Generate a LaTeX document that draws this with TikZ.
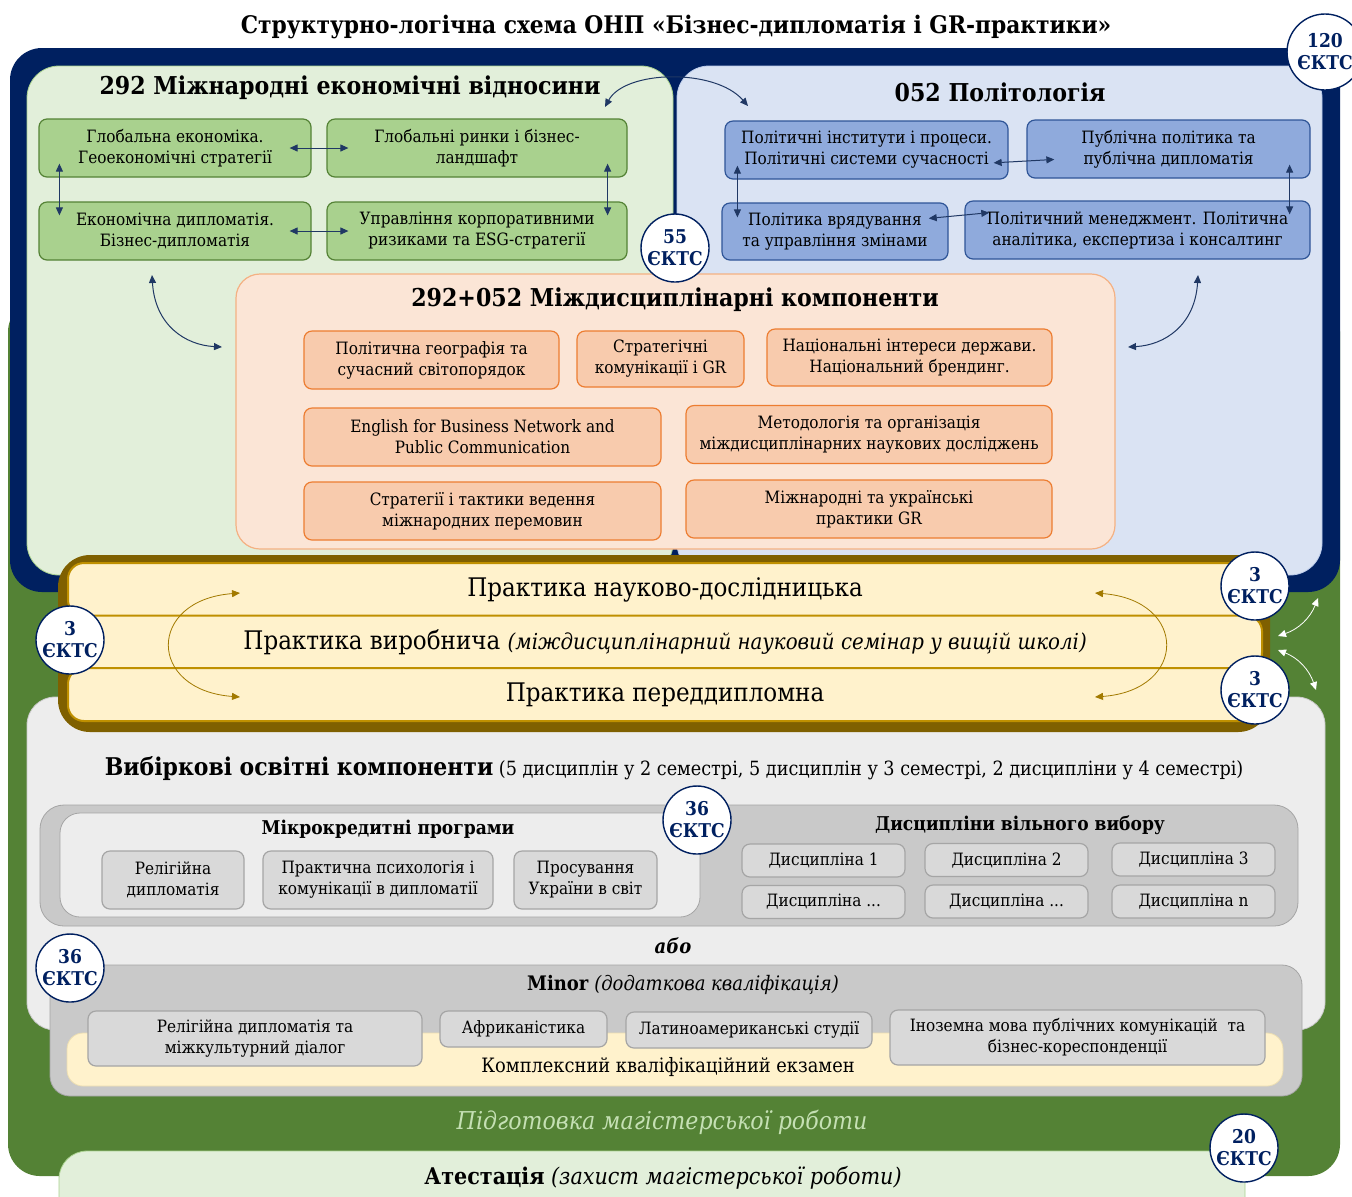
\documentclass[tikz,border=0pt]{standalone}
\usepackage{fontspec}
\setmainfont{DejaVu Serif Condensed}
\usetikzlibrary{arrows.meta}
\definecolor{navy}{HTML}{002060}
\definecolor{olivegr}{HTML}{548235}
\definecolor{lgreen}{HTML}{E2EFDA}
\definecolor{mgreen}{HTML}{A9D18E}
\definecolor{lblue}{HTML}{DAE3F3}
\definecolor{mblue}{HTML}{8FAADC}
\definecolor{dblue}{HTML}{2F5597}
\definecolor{lpeach}{HTML}{FBE5D6}
\definecolor{mpeach}{HTML}{F8CBAD}
\definecolor{dpeach}{HTML}{ED7D31}
\definecolor{peachln}{HTML}{F4B183}
\definecolor{brownfr}{HTML}{7F6000}
\definecolor{lyellow}{HTML}{FFF2CC}
\definecolor{gold}{HTML}{BF9000}
\definecolor{lgrey}{HTML}{EDEDED}
\definecolor{mgrey}{HTML}{C9C9C9}
\definecolor{bgrey}{HTML}{D9D9D9}
\definecolor{dgrey}{HTML}{A5A5A5}
\definecolor{linkc}{HTML}{203864}
\definecolor{paleg}{HTML}{C5E0B4}
\begin{document}
\begin{tikzpicture}[x=0.5pt,y=-0.5pt, line join=round,
  every node/.style={font=\fontsize{8.5}{10.5}\selectfont},
  box/.style={draw, rounded corners=4pt, align=center, inner sep=1pt, minimum height=29pt, line width=0.6pt},
  gbox/.style={box, fill=mgreen, draw=olivegr},
  bbox/.style={box, fill=mblue, draw=dblue},
  obox/.style={box, fill=mpeach, draw=dpeach},
  grbox/.style={box, fill=bgrey, draw=dgrey},
  prow/.style={draw=gold, fill=lyellow, line width=1pt, rounded corners=8pt, minimum width=597pt, minimum height=26.5pt, font=\fontsize{12.8}{14}\selectfont},
  head/.style={font=\fontsize{12.3}{14}\selectfont\bfseries},
  subhead/.style={font=\fontsize{9.5}{11}\selectfont\bfseries},
  ects/.style={circle, draw=navy, fill=white, line width=0.7pt, minimum size=34pt, inner sep=0pt, align=center, text=navy, font=\fontsize{9.5}{11}\selectfont\bfseries},
  link/.style={{Triangle[length=4pt,width=3.5pt]}-{Triangle[length=4pt,width=3.5pt]}, draw=linkc, line width=0.5pt},
  plink/.style={link, draw=gold!85!black, line width=0.4pt},
  wlink/.style={link, draw=white, line width=0.4pt}]
\useasboundingbox (0,0) rectangle (1352,1196);
\node[font=\fontsize{12.1}{14}\selectfont\bfseries] (title) at (676,27) {Структурно-логічна схема ОНП «Бізнес-дипломатія і GR-практики»};
\fill[olivegr, rounded corners=16pt] (8,300) rectangle (1340,1176);
\fill[navy, rounded corners=16pt] (10,48) rectangle (1340,592);
\filldraw[fill=lgreen, draw=mgreen, rounded corners=16pt] (27,66) rectangle (673,575);
\filldraw[fill=lblue, draw=mblue!60, rounded corners=16pt] (677,66) rectangle (1322,575);
\node[head] (t292) at (350,88) {292 Міжнародні економічні відносини};
\node[head] (t052) at (1000,92) {052 Політологія};

\node[gbox, minimum width=136pt] (ge) at (175,148) {Глобальна економіка.\\Геоекономічні стратегії};
\node[gbox, minimum width=150pt] (gr) at (477,148) {Глобальні ринки і бізнес-\\ландшафт};
\node[gbox, minimum width=136pt] (ed) at (175,231) {Економічна дипломатія.\\Бізнес-дипломатія};
\node[gbox, minimum width=150pt] (ur) at (477,231) {Управління корпоративними\\ризиками та ESG-стратегії};
\draw[link, shorten <=-11pt, shorten >=-11pt] (ge.east) -- (gr.west);
\draw[link, shorten <=-11pt, shorten >=-11pt] (ed.east) -- (ur.west);
\draw[link, shorten <=-7pt, shorten >=-7pt] ([xshift=10.5pt]ge.south west) -- ([xshift=10.5pt]ed.north west);
\draw[link, shorten <=-7pt, shorten >=-7pt] ([xshift=-10pt]gr.south east) -- ([xshift=-10pt]ur.north east);

\node[bbox, minimum width=141.5pt] (pi) at (866.5,150) {Політичні інститути і процеси.\\Політичні системи сучасності};
\node[bbox, minimum width=141.5pt] (pp) at (1168.5,149) {Публічна політика та\\публічна дипломатія};
\node[bbox, minimum width=113pt, minimum height=28.5pt] (pv) at (835,231.5) {Політика врядування\\та управління змінами};
\node[bbox, minimum width=172.5pt] (pm) at (1137.5,230) {Політичний менеджмент. Політична\\аналітика, експертиза і консалтинг};
\draw[link, shorten <=-7.5pt, shorten >=-14pt] ([yshift=-6pt]pi.east) -- ([yshift=-6pt]pp.west);
\draw[link, shorten <=-10pt, shorten >=-12.5pt] ([yshift=7.5pt]pv.east) -- ([yshift=7.5pt]pm.west);
\draw[link, shorten <=-7pt, shorten >=-7.5pt] ([xshift=6.5pt]pi.south west) -- ([xshift=8pt]pv.north west);
\draw[link, shorten <=-7pt, shorten >=-7pt] ([xshift=-10.5pt]pp.south east) -- ([xshift=-10.5pt]pm.north east);
\coordinate (ua) at (605,107); \coordinate (ub) at (748,106);
\draw[link] (ua) .. controls (625,70) and (715,68) .. (ub);

\filldraw[fill=lpeach, draw=peachln, line width=0.6pt, rounded corners=12pt] (236,274) rectangle (1115,549);
\node[head] (t344) at (675,300) {292+052 Міждисциплінарні компоненти};
\node[obox, minimum width=127.5pt] (pg) at (431.5,360) {Політична географія та\\сучасний світопорядок};
\node[obox, minimum width=83.5pt, minimum height=28pt] (sk) at (660.5,359) {Стратегічні\\комунікації і GR};
\node[obox, minimum width=142.5pt, minimum height=28.5pt] (ni) at (909.5,357.5) {Національні інтереси держави.\\Національний брендинг.};
\node[obox, minimum width=178.5pt] (en) at (482.5,437) {English for Business Network and\\Public Communication};
\node[obox, minimum width=183pt] (md) at (869,434.5) {Методологія та організація\\міждисциплінарних наукових досліджень};
\node[obox, minimum width=178.5pt] (st) at (482.5,511) {Стратегії і тактики ведення\\міжнародних перемовин};
\node[obox, minimum width=183pt] (mp) at (869,509) {Міжнародні та українські\\практики GR};
\coordinate (la) at (152,275); \coordinate (lb) at (222,347);
\coordinate (ra) at (1198,275); \coordinate (rb) at (1128,347);
\draw[link] (la) .. controls (155,325) and (185,345) .. (lb);
\draw[link] (ra) .. controls (1195,325) and (1165,345) .. (rb);

\filldraw[fill=lgrey, draw=dgrey!60, rounded corners=14pt] (27,697) rectangle (1325,1030);
\fill[brownfr, rounded corners=16pt] (58,555) rectangle (1270,732);
\node[prow] (p1) at (665,589.5) {Практика науково-дослідницька};
\node[prow] (p2) at (665,642) {Практика виробнича {\fontsize{11}{13}\selectfont\itshape (міждисциплінарний науковий семінар у вищій школі)}};
\node[prow] (p3) at (665,694.5) {Практика переддипломна};
\coordinate (pl1) at (240,593); \coordinate (pl2) at (240,697);
\coordinate (pr1) at (1095,593); \coordinate (pr2) at (1095,697);
\draw[plink] (pl1) .. controls (147,600) and (147,690) .. (pl2);
\draw[plink] (pr1) .. controls (1188,600) and (1188,690) .. (pr2);

\node[font=\fontsize{9.8}{11}\selectfont] (vk) at (674,769) {{\fontsize{12.2}{14}\selectfont\bfseries Вибіркові освітні компоненти} (5 дисциплін у 2 семестрі, 5 дисциплін у 3 семестрі, 2 дисципліни у 4 семестрі)};
\filldraw[fill=mgrey, draw=dgrey, rounded corners=12pt] (40,805) rectangle (1298,926);
\filldraw[fill=lgrey, draw=dgrey, rounded corners=10pt] (60,813) rectangle (700,917);
\node[subhead] (mk) at (388,829) {Мікрокредитні програми};
\node[grbox, minimum width=71pt] (rd) at (173,880) {Релігійна\\дипломатія};
\node[grbox, minimum width=115pt] (ps) at (378,880) {Практична психологія і\\комунікації в дипломатії};
\node[grbox, minimum width=71.5pt] (pu) at (585.5,880) {Просування\\України в світ};
\node[subhead] (dv) at (1020,825) {Дисципліни вільного вибору};
\node[grbox, minimum width=81.5pt, minimum height=16.5pt] (d1) at (823.5,860.5) {Дисципліна 1};
\node[grbox, minimum width=81.5pt, minimum height=16.5pt] (d2) at (1006.5,860) {Дисципліна 2};
\node[grbox, minimum width=81.5pt, minimum height=16.5pt] (d3) at (1193.5,859.5) {Дисципліна 3};
\node[grbox, minimum width=81.5pt, minimum height=16.5pt] (d4) at (823.5,902) {Дисципліна ...};
\node[grbox, minimum width=81.5pt, minimum height=16.5pt] (d5) at (1006.5,901.5) {Дисципліна ...};
\node[grbox, minimum width=81.5pt, minimum height=16.5pt] (d6) at (1193.5,901.5) {Дисципліна n};

\node[font=\fontsize{10}{12}\selectfont\bfseries\itshape] (abo) at (673,946) {або};
\filldraw[fill=mgrey, draw=dgrey, rounded corners=10pt] (50,965) rectangle (1302,1096);
\node[font=\fontsize{10}{12}\selectfont] (mn) at (683,985) {\textbf{Minor} \textit{(додаткова кваліфікація)}};
\filldraw[fill=lyellow, draw=gold!30, rounded corners=8pt] (67,1033) rectangle (1283,1086);
\node[font=\fontsize{9.9}{11}\selectfont] (kk) at (668,1067) {Комплексний кваліфікаційний екзамен};
\node[grbox, minimum width=167pt, minimum height=27.5pt] (rm) at (255,1038.5) {Релігійна дипломатія та\\міжкультурний діалог};
\node[grbox, minimum width=83.5pt, minimum height=18pt] (af) at (523.5,1029) {Африканістика};
\node[grbox, minimum width=123pt, minimum height=18pt] (la2) at (749,1030) {Латиноамериканські студії};
\node[grbox, minimum width=187.5pt, minimum height=27.5pt] (im) at (1077.5,1037.5) {Іноземна мова публічних комунікацій~ та\\бізнес-кореспонденції};

\node[text=paleg, font=\fontsize{12.3}{14}\selectfont\itshape] (mr) at (662,1122) {Підготовка магістерської роботи};
\filldraw[fill=lgreen, draw=mgreen, rounded corners=14pt] (59,1151) rectangle (1245,1240);
\node[font=\fontsize{11.5}{13}\selectfont] (at) at (663,1178) {\textbf{Атестація} \textit{(захист магістерської роботи)}};

\coordinate (w1) at (1318,598); \coordinate (w2) at (1278,636);
\coordinate (w3) at (1278,650); \coordinate (w4) at (1316,690);
\draw[wlink] (w1) to[bend left=25] (w2);
\draw[wlink] (w3) to[bend left=25] (w4);

\node[ects] (e55) at (675,248) {55\\ЄКТС};
\node[ects, minimum size=38pt] (e120) at (1325,52) {120\\ЄКТС};
\node[ects] (e3a) at (1255,586) {3\\ЄКТС};
\node[ects] (e3b) at (70,640) {3\\ЄКТС};
\node[ects] (e3c) at (1255,690) {3\\ЄКТС};
\node[ects] (e36a) at (697,820) {36\\ЄКТС};
\node[ects] (e36b) at (70,968) {36\\ЄКТС};
\node[ects] (e20) at (1244,1148) {20\\ЄКТС};
\end{tikzpicture}
\end{document}
